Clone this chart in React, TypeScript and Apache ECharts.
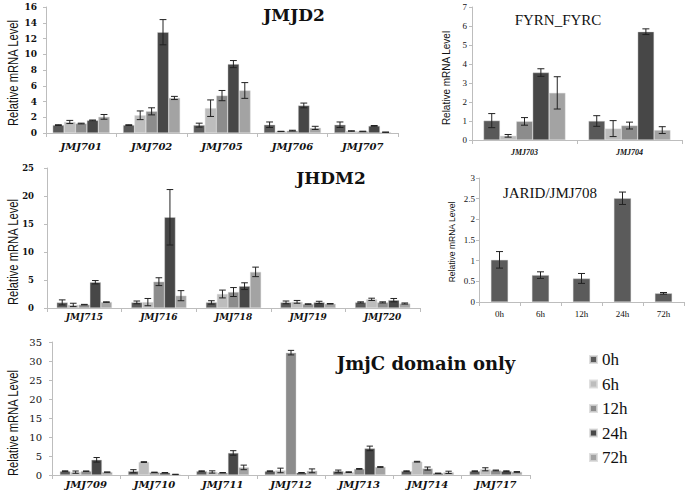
import React, { useEffect, useRef } from 'react';
import * as echarts from 'echarts';

const timePoints = ['0h', '6h', '12h', '24h', '72h'];
const timeColors = ['#595959', '#bdbdbd', '#8c8c8c', '#474747', '#a3a3a3'];

// JMJD2 panel (rows = time points, columns = genes)
const jmjd2Genes = ['JMJ701', 'JMJ702', 'JMJ705', 'JMJ706', 'JMJ707'];
const jmjd2Mean = [
  [1.0, 1.0, 1.0, 1.05, 1.05],
  [1.4, 2.25, 3.15, 0.2, 0.25],
  [1.2, 2.75, 4.75, 0.3, 0.2],
  [1.6, 12.8, 8.75, 3.5, 0.9],
  [2.05, 4.45, 5.4, 0.65, 0.1],
];
const jmjd2Err = [
  [0.05, 0.05, 0.25, 0.35, 0.35],
  [0.2, 0.55, 1.05, 0.02, 0.03],
  [0.05, 0.45, 0.65, 0.05, 0.03],
  [0.05, 1.6, 0.45, 0.3, 0.05],
  [0.3, 0.2, 1.0, 0.2, 0.02],
];

// FYRN_FYRC panel
const fyrnGenes = ['JMJ703', 'JMJ704'];
const fyrnMean = [
  [1.02, 1.0],
  [0.22, 0.6],
  [0.98, 0.76],
  [3.55, 5.7],
  [2.48, 0.52],
];
const fyrnErr = [
  [0.37, 0.28],
  [0.07, 0.42],
  [0.2, 0.18],
  [0.2, 0.15],
  [0.85, 0.18],
];

// JHDM2 panel
const jhdm2Genes = ['JMJ715', 'JMJ716', 'JMJ718', 'JMJ719', 'JMJ720'];
const jhdm2Mean = [
  [1.0, 1.0, 1.0, 1.0, 1.0],
  [0.55, 1.05, 2.5, 1.1, 1.55],
  [0.6, 4.7, 2.85, 0.7, 1.0],
  [4.6, 16.2, 3.9, 1.0, 1.4],
  [1.05, 2.2, 6.45, 0.75, 0.8],
];
const jhdm2Err = [
  [0.45, 0.25, 0.3, 0.25, 0.1],
  [0.3, 0.65, 0.7, 0.25, 0.2],
  [0.05, 0.7, 0.8, 0.05, 0.1],
  [0.3, 4.95, 0.6, 0.2, 0.3],
  [0.05, 0.9, 0.85, 0.05, 0.1],
];

// JARID/JMJ708 panel
const jaridCats = ['0h', '6h', '12h', '24h', '72h'];
const jaridMean = [1.02, 0.65, 0.57, 2.51, 0.21];
const jaridErr = [0.2, 0.08, 0.12, 0.15, 0.02];

// JmjC domain only panel
const jmjcGenes = ['JMJ709', 'JMJ710', 'JMJ711', 'JMJ712', 'JMJ713', 'JMJ714', 'JMJ717'];
const jmjcMean = [
  [1.0, 1.0, 1.0, 1.0, 1.0, 1.0, 1.0],
  [0.75, 3.4, 0.8, 1.2, 0.75, 3.5, 1.5],
  [1.0, 0.7, 0.6, 32.2, 1.6, 1.7, 1.2],
  [4.0, 0.6, 5.8, 0.6, 7.0, 0.45, 1.0],
  [0.75, 0.15, 2.0, 1.1, 2.1, 0.7, 0.8],
];
const jmjcErr = [
  [0.1, 0.4, 0.1, 0.1, 0.3, 0.1, 0.1],
  [0.3, 0.1, 0.3, 0.6, 0.1, 0.1, 0.4],
  [0.05, 0.05, 0.05, 0.6, 0.1, 0.4, 0.1],
  [0.6, 0.05, 0.6, 0.05, 0.6, 0.05, 0.1],
  [0.05, 0.05, 0.6, 0.5, 0.1, 0.3, 0.1],
];

function errRender(nSeries: number, gap: number) {
  return (params: any, api: any) => {
    const cat = api.value(0);
    const v = api.value(1);
    const e = api.value(2);
    const k = api.value(3);
    const band = api.size([1, 0])[0];
    const bw = (band * (1 - gap)) / nSeries;
    const c = api.coord([cat, v]);
    const x = c[0] + (k - (nSeries - 1) / 2) * bw;
    const yt = api.coord([cat, v + e])[1];
    const yb = api.coord([cat, Math.max(0, v - e)])[1];
    const cap = Math.max(2, Math.min(3.5, bw * 0.3));
    const style = { stroke: '#222', lineWidth: 1 };
    return {
      type: 'group',
      children: [
        { type: 'line', shape: { x1: x, y1: yt, x2: x, y2: yb }, style },
        { type: 'line', shape: { x1: x - cap, y1: yt, x2: x + cap, y2: yt }, style },
        { type: 'line', shape: { x1: x - cap, y1: yb, x2: x + cap, y2: yb }, style },
      ],
    };
  };
}

const serif = "'DejaVu Serif', serif";
const times = "'Liberation Serif', 'Times New Roman', Times, serif";
const narrow = "'Liberation Sans Narrow', 'Arial Narrow', 'Liberation Sans', Arial, sans-serif";

export default function App() {
  const ref = useRef<HTMLDivElement>(null);
  useEffect(() => {
    if (!ref.current) return;
    const chart = echarts.init(ref.current, undefined, { renderer: 'svg' });

    const panels = [
      {
        cats: jmjd2Genes, mean: jmjd2Mean, err: jmjd2Err, single: false,
        grid: { left: 46, top: 7, width: 352, height: 126 }, max: 16, interval: 2, gap: 0.19,
        yLab: { fontFamily: serif, fontSize: 9, fontWeight: 'bold', margin: 9 },
        xLab: { fontFamily: serif, fontSize: 10, fontWeight: 'bold', fontStyle: 'italic', margin: 8 },
      },
      {
        cats: fyrnGenes, mean: fyrnMean, err: fyrnErr, single: false,
        grid: { left: 472, top: 7, width: 210, height: 133 }, max: 7, interval: 1, gap: 0.22,
        yLab: { fontFamily: times, fontSize: 9, fontWeight: 'normal', margin: 5 },
        xLab: { fontFamily: times, fontSize: 8, fontWeight: 'bold', fontStyle: 'italic', margin: 8 },
      },
      {
        cats: jhdm2Genes, mean: jhdm2Mean, err: jhdm2Err, single: false,
        grid: { left: 47, top: 168, width: 373, height: 140 }, max: 25, interval: 5, gap: 0.26,
        yLab: { fontFamily: serif, fontSize: 8.5, fontWeight: 'bold', margin: 13 },
        xLab: { fontFamily: serif, fontSize: 9, fontWeight: 'bold', fontStyle: 'italic', margin: 4 },
      },
      {
        cats: jaridCats, mean: [jaridMean], err: [jaridErr], single: true,
        grid: { left: 479, top: 178, width: 205, height: 124 }, max: 3, interval: 0.5, gap: 0.58,
        yLab: { fontFamily: times, fontSize: 9, fontWeight: 'normal', margin: 4 },
        xLab: { fontFamily: times, fontSize: 9, fontWeight: 'normal', fontStyle: 'normal', margin: 7 },
      },
      {
        cats: jmjcGenes, mean: jmjcMean, err: jmjcErr, single: false,
        grid: { left: 52, top: 342, width: 478, height: 133 }, max: 35, interval: 5, gap: 0.23,
        yLab: { fontFamily: serif, fontSize: 10, fontWeight: 'normal', margin: 10 },
        xLab: { fontFamily: serif, fontSize: 10, fontWeight: 'bold', fontStyle: 'italic', margin: 4 },
      },
    ];

    const axisLine = { show: true, lineStyle: { color: '#bdbdbd', width: 1 } };
    const grids: any[] = [];
    const xAxes: any[] = [];
    const yAxes: any[] = [];
    const series: any[] = [];

    panels.forEach((p, i) => {
      grids.push({ ...p.grid, containLabel: false });
      xAxes.push({
        type: 'category', gridIndex: i, data: p.cats,
        axisLine, axisTick: { show: true, length: 4, lineStyle: { color: '#bdbdbd' } },
        axisLabel: { color: '#111', ...p.xLab },
      });
      yAxes.push({
        type: 'value', gridIndex: i, min: 0, max: p.max, interval: p.interval,
        axisLine, axisTick: { show: true, length: 3, lineStyle: { color: '#bdbdbd' } },
        splitLine: { show: false },
        axisLabel: { color: '#111', ...p.yLab },
      });
      const n = p.mean.length;
      p.mean.forEach((row, t) => {
        series.push({
          type: 'bar', name: p.single ? 'JARID/JMJ708' : timePoints[t],
          xAxisIndex: i, yAxisIndex: i, data: row,
          barGap: '0%', barCategoryGap: Math.round(p.gap * 100) + '%',
          itemStyle: { color: p.single ? '#5b5b5b' : timeColors[t], borderColor: 'rgba(215,215,215,0.8)', borderWidth: 0.5 },
        });
      });
      const errData: number[][] = [];
      p.mean.forEach((row, t) => row.forEach((v, g) => errData.push([g, v, p.err[t][g], t])));
      series.push({
        type: 'custom', xAxisIndex: i, yAxisIndex: i, data: errData,
        encode: { x: 0, y: 1 }, z: 5, silent: true,
        renderItem: errRender(n, p.gap),
      });
    });

    const yNames = [
      { x: 13, y: 73, size: 15, sx: 0.75 },
      { x: 446, y: 78, size: 10.5, sx: 0.95 },
      { x: 13, y: 252, size: 15, sx: 0.75 },
      { x: 452, y: 242, size: 9.5, sx: 0.9 },
      { x: 13, y: 423, size: 15, sx: 0.75 },
    ];
    const titles = [
      { text: 'JMJD2', x: 294, y: 15, font: serif, size: 17, weight: 'bold' },
      { text: 'JHDM2', x: 331, y: 178, font: serif, size: 17, weight: 'bold' },
      { text: 'JmjC domain only', x: 426, y: 363, font: serif, size: 18, weight: 'bold' },
      { text: 'FYRN_FYRC', x: 558, y: 20, font: times, size: 15, weight: 'normal' },
      { text: 'JARID/JMJ708', x: 550, y: 193, font: times, size: 15, weight: 'normal' },
    ];
    const graphic: any[] = [
      ...yNames.map((n) => ({
        type: 'text', x: n.x, y: n.y, rotation: Math.PI / 2, scaleX: n.sx,
        style: {
          text: 'Relative mRNA Level', fontFamily: narrow, fontSize: n.size,
          fill: '#111', textAlign: 'center', textVerticalAlign: 'middle',
        },
      })),
      ...titles.map((t) => ({
        type: 'text', x: t.x, y: t.y,
        style: {
          text: t.text, fontFamily: t.font, fontSize: t.size, fontWeight: t.weight,
          fill: '#111', textAlign: 'center', textVerticalAlign: 'middle',
        },
      })),
    ];

    chart.setOption({
      animation: false,
      backgroundColor: '#ffffff',
      grid: grids,
      xAxis: xAxes,
      yAxis: yAxes,
      series,
      graphic,
      legend: {
        data: timePoints, orient: 'vertical', left: 584, top: 346,
        icon: 'rect', itemWidth: 7, itemHeight: 7, itemGap: 7.5, selectedMode: false,
        textStyle: { fontFamily: times, fontSize: 17, color: '#111', lineHeight: 17 },
      },
    });
    return () => chart.dispose();
  }, []);
  return <div ref={ref} style={{ position: 'fixed', left: 0, top: 0, width: 685, height: 490, background: '#fff' }} />;
}
